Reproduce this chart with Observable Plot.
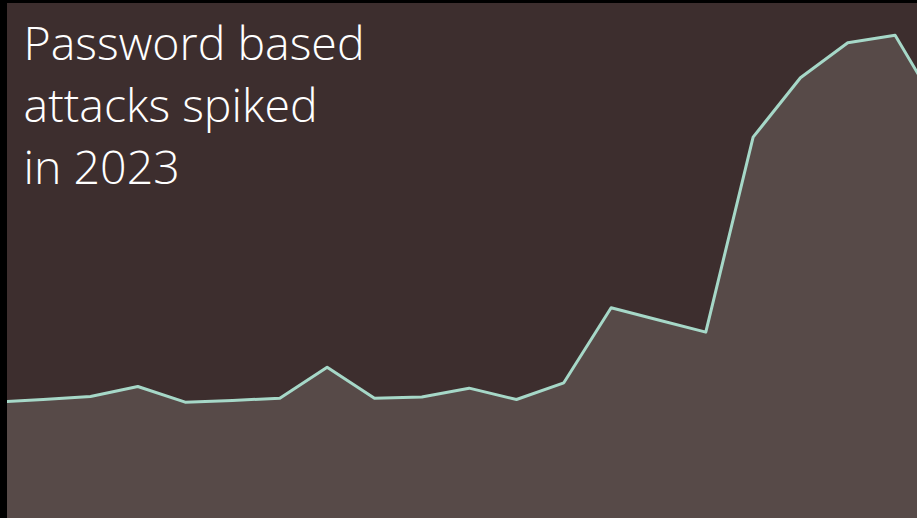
<!DOCTYPE html>
<html>
<head>
<meta charset="utf-8">
<script src="https://cdn.jsdelivr.net/npm/d3@7"></script>
<script src="https://cdn.jsdelivr.net/npm/@observablehq/plot@0.6"></script>
<style>
  html, body { margin: 0; padding: 0; background: #000; width: 917px; height: 518px; overflow: hidden; }
  #chart { position: absolute; left: 7px; top: 3px; }
</style>
</head>
<body>
<div id="chart"></div>
<script>
// Monthly password-based attacks (billions)
const months = ["2022-01","2022-02","2022-03","2022-04","2022-05","2022-06","2022-07","2022-08","2022-09","2022-10","2022-11","2022-12","2023-01","2023-02","2023-03","2023-04","2023-05","2023-06","2023-07","2023-08","2023-09"];
const attacks = [9.53, 9.76, 10.0, 10.82, 9.53, 9.67, 9.86, 12.40, 9.86, 9.96, 10.68, 9.75, 11.12, 17.27, 16.27, 15.27, 31.25, 36.12, 38.99, 39.59, 33.08];
const titleText = "Password based\nattacks spiked\nin 2023";

const data = months.map((m, i) => ({i, month: m, value: attacks[i]}));

const chart = Plot.plot({
  width: 910,
  height: 515,
  margin: 0,
  style: {background: "#3d2e2e", overflow: "hidden"},
  x: {domain: [0.2466, 19.473], axis: null},
  y: {domain: [0, 42.2], axis: null},
  marks: [
    Plot.areaY(data, {x: "i", y: "value", fill: "#574a48", clip: true}),
    Plot.lineY(data, {x: "i", y: "value", stroke: "#a6d8c8", strokeWidth: 3, clip: true}),
    Plot.text([titleText], {
      frameAnchor: "top-left",
      dx: 16, dy: 12,
      lineAnchor: "top",
      textAnchor: "start",
      fontSize: 46.5,
      lineHeight: 1.335,
      fill: "#ffffff",
      fontFamily: "'Open Sans', sans-serif",
      fontWeight: 300
    })
  ]
});
document.getElementById("chart").appendChild(chart);
</script>
</body>
</html>
